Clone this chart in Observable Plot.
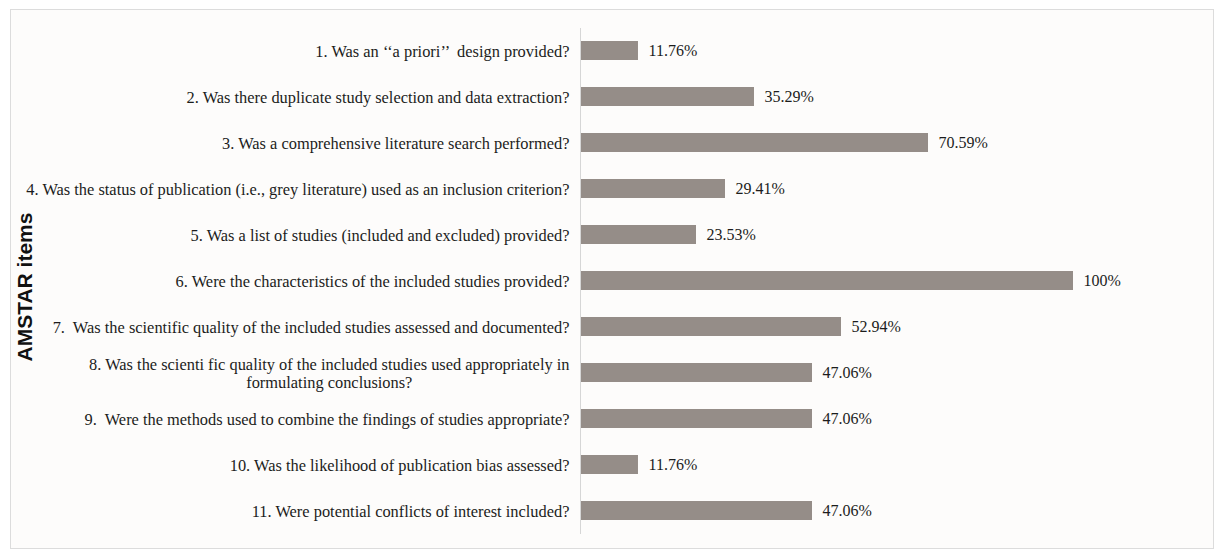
<!DOCTYPE html>
<html>
<head>
<meta charset="utf-8">
<script src="https://cdn.jsdelivr.net/npm/d3@7"></script>
<script src="https://cdn.jsdelivr.net/npm/@observablehq/plot@0.6"></script>
<style>
  html, body { margin: 0; padding: 0; background: #ffffff; }
  #frame { position: absolute; left: 10px; top: 9px; width: 1202px; height: 538px; border: 1px solid #dcdcdc; background: #fdfcfb; }
  #chart { position: absolute; left: 0; top: 0; }
  #chart svg, #chart svg text { font-family: "Liberation Serif", "Times New Roman", serif !important; }
  #chart svg text.title { font-family: "Liberation Sans", Arial, sans-serif !important; }
</style>
</head>
<body>
<div id="frame"></div>
<div id="chart"></div>
<script>
const items = [
  "1. Was an \u2018\u2018a priori\u2019\u2019  design provided?",
  "2. Was there duplicate study selection and data extraction?",
  "3. Was a comprehensive literature search performed?",
  "4. Was the status of publication (i.e., grey literature) used as an inclusion criterion?",
  "5. Was a list of studies (included and excluded) provided?",
  "6. Were the characteristics of the included studies provided?",
  "7.  Was the scientific quality of the included studies assessed and documented?",
  "8. Was the scienti fic quality of the included studies used appropriately in\nformulating conclusions?",
  "9.  Were the methods used to combine the findings of studies appropriate?",
  "10. Was the likelihood of publication bias assessed?",
  "11. Were potential conflicts of interest included?"
];
const values = [11.76, 35.29, 70.59, 29.41, 23.53, 100, 52.94, 47.06, 47.06, 11.76, 47.06];
const valueLabels = ["11.76%", "35.29%", "70.59%", "29.41%", "23.53%", "100%", "52.94%", "47.06%", "47.06%", "11.76%", "47.06%"];
const axisTitle = "AMSTAR items";

const data = items.map((item, i) => ({item, value: values[i], label: valueLabels[i]}));

const chart = Plot.plot({
  width: 1223,
  height: 558,
  marginLeft: 580,
  marginRight: 150,
  marginTop: 28,
  marginBottom: 24,
  style: {background: "transparent", fontSize: "16px", color: "#1c1c1c"},
  x: {domain: [0, 100], axis: null},
  y: {domain: items, paddingInner: 0.58, paddingOuter: 0.29, label: null},
  marks: [
    Plot.barX(data, {x: "value", y: "item", fill: "#958d88"}),
    Plot.ruleX([0], {stroke: "#d6d6d6", strokeWidth: 1}),
    Plot.axisY({tickSize: 0, tickPadding: 11, label: null, fontSize: 16.4, lineHeight: 1.1, textOverflow: null, lineWidth: Infinity, fill: "#1c1c1c"}),
    Plot.text(data, {x: "value", y: "item", text: "label", textAnchor: "start", dx: 10, fontSize: 16, fill: "#1c1c1c"})
  ]
});
document.getElementById("chart").appendChild(chart);

// center multi-line tick labels (like the original word-processor layout)
const svg = d3.select(chart);
svg.selectAll("[aria-label='y-axis tick label'] text").each(function() {
  const tspans = this.querySelectorAll("tspan");
  if (tspans.length > 1) {
    const w = this.getBBox().width;
    this.setAttribute("text-anchor", "middle");
    tspans.forEach(ts => ts.setAttribute("x", -w / 2));
  }
});

// rotated axis title
svg.append("text")
  .attr("class", "title")
  .attr("transform", "translate(24,287) rotate(-90)")
  .attr("text-anchor", "middle")
  .attr("dominant-baseline", "central")
  .attr("font-weight", "bold")
  .attr("font-size", 21)
  .attr("fill", "#111")
  .text(axisTitle);
</script>
</body>
</html>
